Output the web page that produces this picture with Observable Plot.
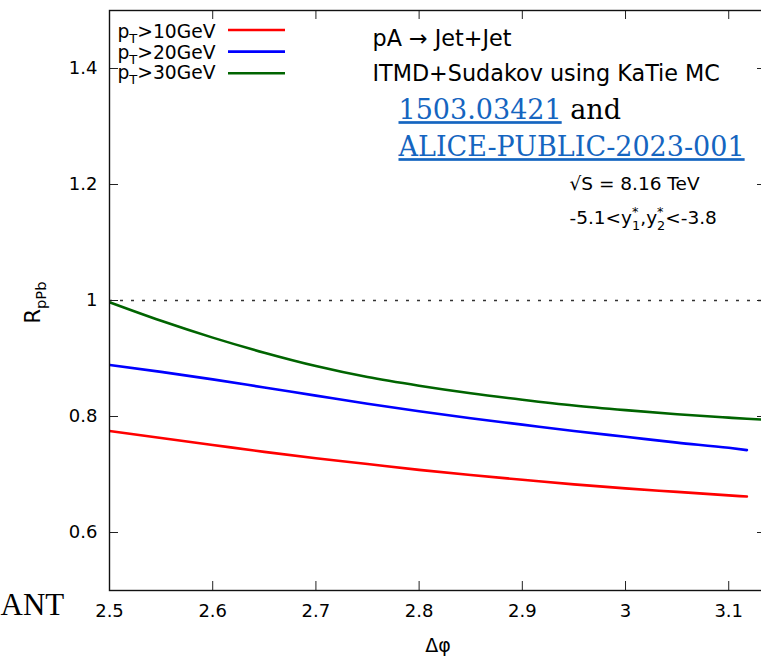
<!DOCTYPE html>
<html>
<head>
<meta charset="utf-8">
<script src="https://cdn.jsdelivr.net/npm/d3@7"></script>
<script src="https://cdn.jsdelivr.net/npm/@observablehq/plot@0.6"></script>
<style>
  html, body { margin: 0; padding: 0; background: #fff; overflow: hidden; }
  #chart { width: 761px; height: 657px; overflow: hidden; }
  #chart svg { max-width: none !important; display: block; }
</style>
</head>
<body>
<div id="chart"></div>
<script>
// Δφ grid of the dijet curves (bin centres)
const dphi   = [2.5, 2.55, 2.6, 2.65, 2.7, 2.75, 2.8, 2.85, 2.9, 2.95, 3.0, 3.05, 3.1, 3.1176];
const dphi30 = [2.5, 2.55, 2.6, 2.65, 2.7, 2.75, 2.8, 2.85, 2.9, 2.95, 3.0, 3.05, 3.1, 3.1176, 3.14];

// nuclear modification factor R_pPb for each leading-jet pT cut
const rpPb10 = [0.775, 0.763, 0.751, 0.739, 0.728, 0.718, 0.708, 0.699, 0.691, 0.683, 0.676, 0.670, 0.664, 0.662];
const rpPb20 = [0.889, 0.877, 0.864, 0.850, 0.836, 0.822, 0.809, 0.797, 0.786, 0.775, 0.765, 0.755, 0.746, 0.742];
const rpPb30 = [0.997, 0.965, 0.936, 0.910, 0.887, 0.868, 0.853, 0.840, 0.829, 0.819, 0.811, 0.804, 0.798, 0.796, 0.794];

const seriesLabels = ["p_{T}>10GeV", "p_{T}>20GeV", "p_{T}>30GeV"];
const seriesColors = ["#ff0000", "#0000ff", "#006400"];

const xTicks = [2.5, 2.6, 2.7, 2.8, 2.9, 3.0, 3.1];
const xTickLabels = ["2.5", "2.6", "2.7", "2.8", "2.9", "3", "3.1"];
const yTicks = [0.6, 0.8, 1.0, 1.2, 1.4];
const yTickLabels = ["0.6", "0.8", "1", "1.2", "1.4"];

const titleLines = ["pA → Jet+Jet", "ITMD+Sudakov using KaTie MC"];
const refLines = ["~{1503.03421} and", "~{ALICE-PUBLIC-2023-001}"];
const kinematics = ["√S = 8.16 TeV", "-5.1<y^{*}_{1},y^{*}_{2}<-3.8"];

// ---- layout ----
const W = 772, H = 657;
const M = {top: 10, right: 6, bottom: 67, left: 109};
const xDomain = [2.5, 3.1366];
const yDomain = [0.5, 1.5];
const frameW = W - M.left - M.right;
const frameH = H - M.top - M.bottom;
const TICK = 9;
const LINK = "#1565c0";

const sx = d3.scaleLinear(xDomain, [M.left, W - M.right]);
const sy = d3.scaleLinear(yDomain, [H - M.bottom, M.top]);

const series = [
  {x: dphi, y: rpPb10},
  {x: dphi, y: rpPb20},
  {x: dphi30, y: rpPb30}
].map((s, i) => ({
  label: seriesLabels[i],
  color: seriesColors[i],
  points: s.x.map((x, j) => ({x, y: s.y[j]}))
}));

// legend sample segments, placed in frame pixels and mapped back to data space
const legendRows = series.map((s, i) => ({
  x1: sx.invert(228), x2: sx.invert(285), y: sy.invert(29.5 + 21.6 * i), color: s.color
}));

const annot = (text, dx, dy, extra = {}) =>
  Plot.text([text], {text: d => d, frameAnchor: "top-left", lineAnchor: "middle", dx, dy, textAnchor: "start", fill: "black", ...extra});

const plot = Plot.plot({
  width: W,
  height: H,
  marginTop: M.top, marginRight: M.right, marginBottom: M.bottom, marginLeft: M.left,
  x: {domain: xDomain},
  y: {domain: yDomain},
  style: {fontFamily: "DejaVu Sans", fontSize: "18px", background: "white", maxWidth: "none", overflow: "visible"},
  marks: [
    Plot.ruleY([1], {stroke: "#333", strokeWidth: 1.3, strokeDasharray: "3,8"}),
    ...series.map(s => Plot.line(s.points, {x: "x", y: "y", stroke: s.color, strokeWidth: 2.6, curve: "monotone-x", clip: true})),
    // inward ticks on all four sides
    Plot.tickX(xTicks, {x: d => d, insetTop: frameH - TICK, stroke: "#222"}),
    Plot.tickX(xTicks, {x: d => d, insetBottom: frameH - TICK, stroke: "#222"}),
    Plot.tickY(yTicks, {y: d => d, insetRight: frameW - TICK, stroke: "#222"}),
    Plot.tickY(yTicks, {y: d => d, insetLeft: frameW - TICK, stroke: "#222"}),
    Plot.frame({stroke: "#111", strokeWidth: 1.4}),
    Plot.axisX({ticks: xTicks, tickSize: 0, tickPadding: 14, fontSize: 18, label: null,
      tickFormat: d => xTickLabels[xTicks.indexOf(d)]}),
    Plot.axisY({ticks: yTicks, tickSize: 0, tickPadding: 12, fontSize: 18, label: null,
      tickFormat: d => yTickLabels[yTicks.indexOf(d)]}),
    // axis titles
    Plot.text(["Δφ"], {text: d => d, frameAnchor: "bottom", lineAnchor: "middle", textAnchor: "middle", dx: 0, dy: 55, fontSize: 19}),
    Plot.text(["R_{pPb}"], {text: d => d, frameAnchor: "left", lineAnchor: "middle", textAnchor: "middle", dx: -76, dy: 2, rotate: -90, fontSize: 21}),
    // legend
    ...series.map((s, i) => Plot.text([s.label], {text: d => d, frameAnchor: "top-left", lineAnchor: "middle",
      dx: 106, dy: 21.7 + 20.5 * i, textAnchor: "end", fontSize: 18.7})),
    Plot.ruleY(legendRows, {y: "y", x1: "x1", x2: "x2", stroke: "color", strokeWidth: 2.6}),
    // annotations
    annot(titleLines[0], 263, 28, {fontSize: 22.3}),
    annot(titleLines[1], 263, 63, {fontSize: 22.3}),
    annot(refLines[0], 289, 100, {fontSize: 27, fontFamily: "DejaVu Serif"}),
    annot(refLines[1], 289, 137, {fontSize: 27, fontFamily: "DejaVu Serif"}),
    annot(kinematics[0], 460, 174, {fontSize: 18.5}),
    annot(kinematics[1], 460, 208, {fontSize: 18.5}),
    Plot.text(["ANT"], {text: d => d, frameAnchor: "bottom-left", lineAnchor: "middle", dx: -109, dy: 15, textAnchor: "start", fontSize: 31, fontFamily: "Liberation Serif"})
  ]
});

document.getElementById("chart").append(plot);

// Turn _{..} subscripts, ^{..} superscripts and ~{..} links into tspans
function enrich(svg) {
  const NS = "http://www.w3.org/2000/svg";
  svg.querySelectorAll("text").forEach(t => {
    const s = t.textContent;
    if (!/[_^~]\{/.test(s)) return;
    const fs = parseFloat(getComputedStyle(t).fontSize) || 16;
    t.textContent = "";
    const re = /([_^~])\{([^}]*)\}|([^_^~]+)/g;
    let m, shift = 0, prev = null, prevKind = null;
    while ((m = re.exec(s))) {
      const ts = document.createElementNS(NS, "tspan");
      const kind = m[1] || "plain";
      let target = 0;
      if (kind === "_") {
        ts.setAttribute("font-size", (0.7 * fs).toFixed(1));
        target = 0.28 * fs;
      } else if (kind === "^") {
        ts.setAttribute("font-size", (0.7 * fs).toFixed(1));
        target = -0.45 * fs;
      } else if (kind === "~") {
        ts.setAttribute("fill", LINK);
        ts.setAttribute("text-decoration", "underline");
        ts.style.textDecoration = "underline";
      }
      const dy = target - shift;
      if (dy !== 0) ts.setAttribute("dy", dy.toFixed(2));
      shift = target;
      if (kind === "_" && prevKind === "^" && prev) {
        ts.setAttribute("dx", (-prev.getComputedTextLength()).toFixed(2));
      }
      ts.textContent = m[1] ? m[2] : m[3];
      t.appendChild(ts);
      prev = ts; prevKind = kind;
    }
  });
}
enrich(plot);
</script>
</body>
</html>
